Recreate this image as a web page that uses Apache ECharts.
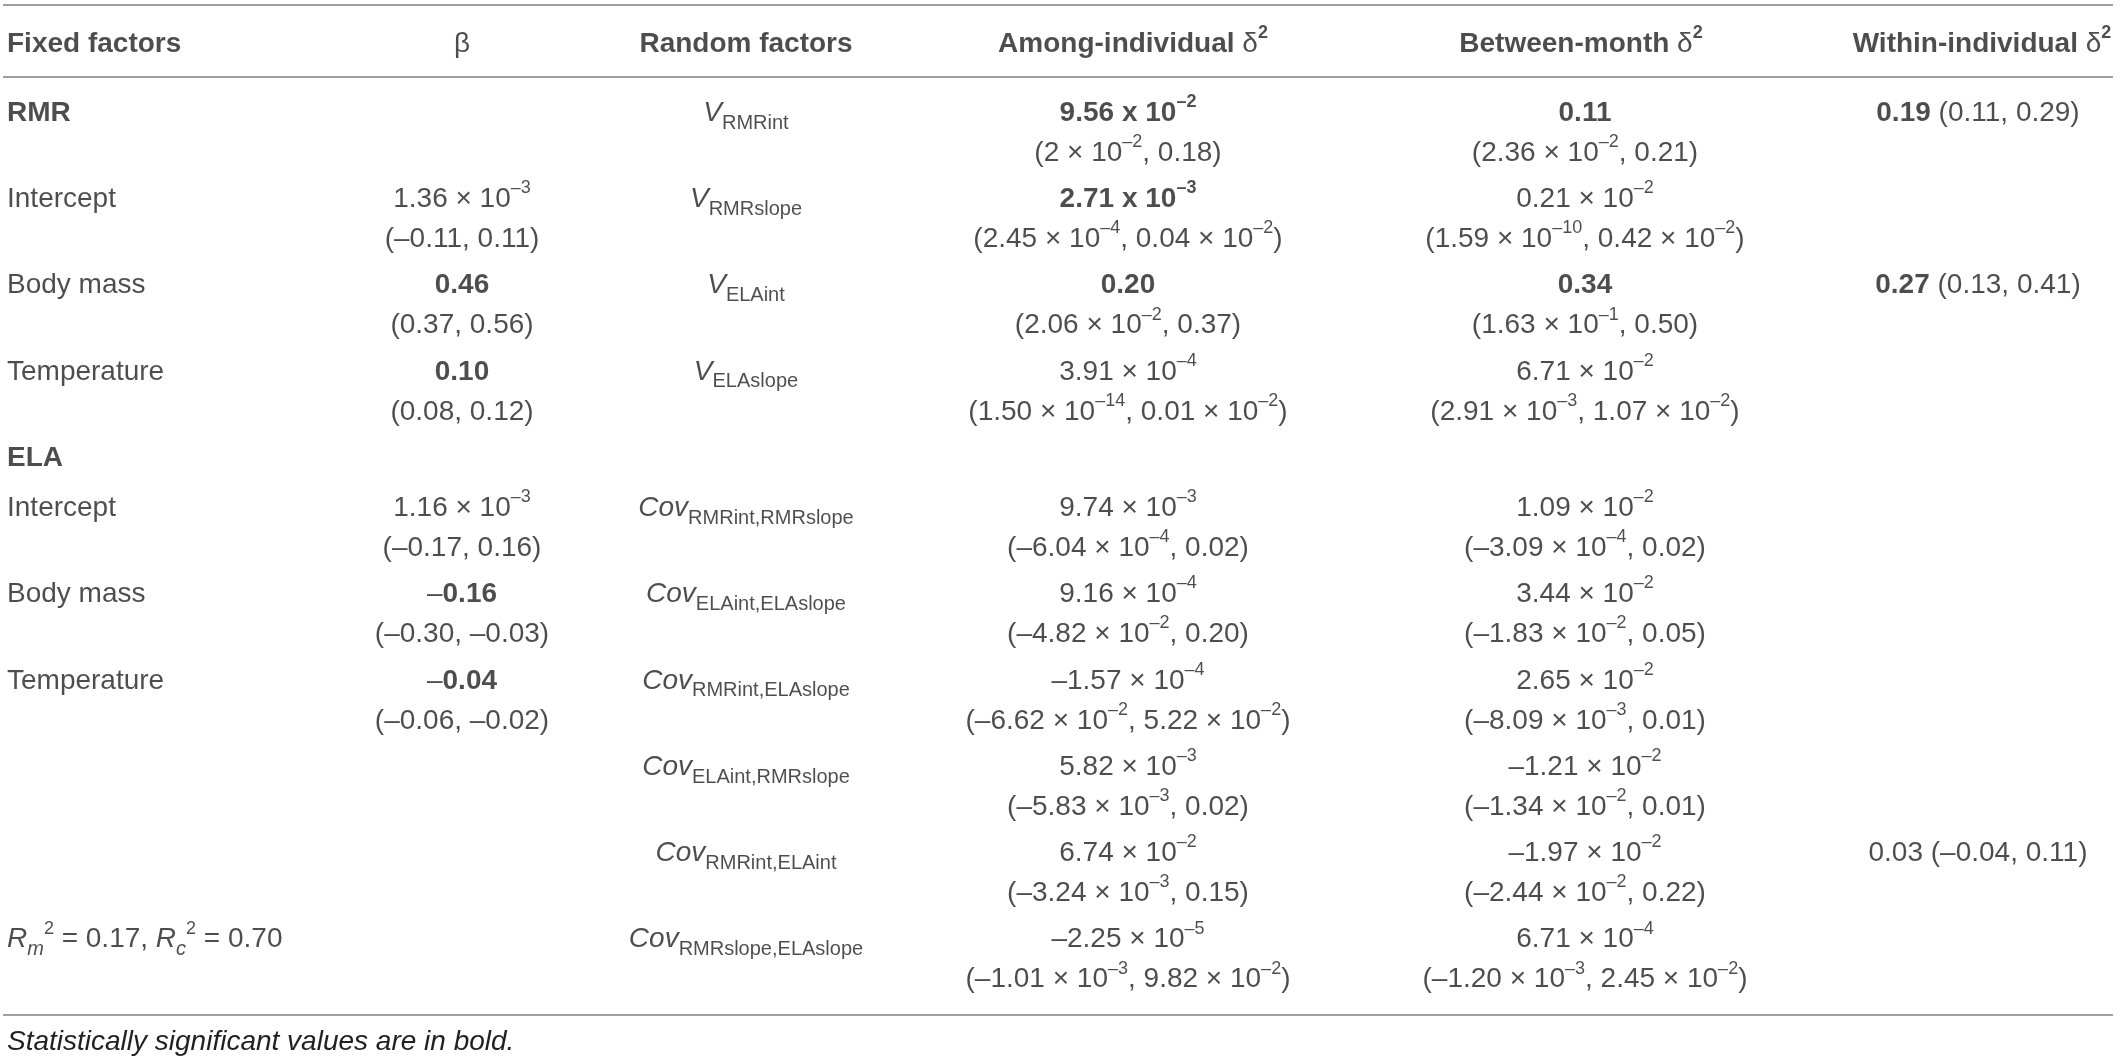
<!DOCTYPE html>
<html>
<head>
<meta charset="utf-8">
<title>Table</title>
<script src="https://cdn.jsdelivr.net/npm/echarts@6/dist/echarts.min.js"></script>
<style>
html, body { margin: 0; padding: 0; background: #fff; }
#main { width: 2118px; height: 1064px; }
</style>
</head>
<body>
<div id="main"></div>
<script>
// markup: **bold**, //italic//, ^{sup}, _{sub}, \n = new line in a cell
var headers = ['**Fixed factors**', 'β', '**Random factors**',
    '**Among-individual** δ^{**2**}', '**Between-month** δ^{**2**}', '**Within-individual** δ^{**2**}'];

var fixedFactors = ['**RMR**', 'Intercept', 'Body mass', 'Temperature', '**ELA**',
    'Intercept', 'Body mass', 'Temperature', '', '',
    '//R_{m}//^{2} = 0.17, //R_{c}//^{2} = 0.70'];

var betaValues = ['', '1.36 × 10^{–3}\n(–0.11, 0.11)', '**0.46**\n(0.37, 0.56)', '**0.10**\n(0.08, 0.12)', '',
    '1.16 × 10^{–3}\n(–0.17, 0.16)', '–**0.16**\n(–0.30, –0.03)', '–**0.04**\n(–0.06, –0.02)', '', '', ''];

var randomFactors = ['//V//_{RMRint}', '//V//_{RMRslope}', '//V//_{ELAint}', '//V//_{ELAslope}', '',
    '//Cov//_{RMRint,RMRslope}', '//Cov//_{ELAint,ELAslope}', '//Cov//_{RMRint,ELAslope}',
    '//Cov//_{ELAint,RMRslope}', '//Cov//_{RMRint,ELAint}', '//Cov//_{RMRslope,ELAslope}'];

var amongIndividual = [
    '**9.56 x 10^{–2}**\n(2 × 10^{–2}, 0.18)',
    '**2.71 x 10^{–3}**\n(2.45 × 10^{–4}, 0.04 × 10^{–2})',
    '**0.20**\n(2.06 × 10^{–2}, 0.37)',
    '3.91 × 10^{–4}\n(1.50 × 10^{–14}, 0.01 × 10^{–2})',
    '',
    '9.74 × 10^{–3}\n(–6.04 × 10^{–4}, 0.02)',
    '9.16 × 10^{–4}\n(–4.82 × 10^{–2}, 0.20)',
    '–1.57 × 10^{–4}\n(–6.62 × 10^{–2}, 5.22 × 10^{–2})',
    '5.82 × 10^{–3}\n(–5.83 × 10^{–3}, 0.02)',
    '6.74 × 10^{–2}\n(–3.24 × 10^{–3}, 0.15)',
    '–2.25 × 10^{–5}\n(–1.01 × 10^{–3}, 9.82 × 10^{–2})'];

var betweenMonth = [
    '**0.11**\n(2.36 × 10^{–2}, 0.21)',
    '0.21 × 10^{–2}\n(1.59 × 10^{–10}, 0.42 × 10^{–2})',
    '**0.34**\n(1.63 × 10^{–1}, 0.50)',
    '6.71 × 10^{–2}\n(2.91 × 10^{–3}, 1.07 × 10^{–2})',
    '',
    '1.09 × 10^{–2}\n(–3.09 × 10^{–4}, 0.02)',
    '3.44 × 10^{–2}\n(–1.83 × 10^{–2}, 0.05)',
    '2.65 × 10^{–2}\n(–8.09 × 10^{–3}, 0.01)',
    '–1.21 × 10^{–2}\n(–1.34 × 10^{–2}, 0.01)',
    '–1.97 × 10^{–2}\n(–2.44 × 10^{–2}, 0.22)',
    '6.71 × 10^{–4}\n(–1.20 × 10^{–3}, 2.45 × 10^{–2})'];

var withinIndividual = ['**0.19** (0.11, 0.29)', '', '**0.27** (0.13, 0.41)', '', '',
    '', '', '', '', '0.03 (–0.04, 0.11)', ''];

var footnote = 'Statistically significant values are in bold.';

// layout (pixels)
var columns = [fixedFactors, betaValues, randomFactors, amongIndividual, betweenMonth, withinIndividual];
var colX = [7, 462, 746, 1128, 1585, 1978];
var headerX = [7, 462, 746, 1133, 1581, 1982];
var headerY = 44, firstRowY = 113;
var ruleY = [5, 77, 1015];
var textColor = '#231f20';
var family = "'Liberation Sans', Arial, Helvetica, sans-serif";

// rich text styles
var rich = {};
['n', 'sup', 'sub'].forEach(function (mode) {
    [false, true].forEach(function (b) {
        [false, true].forEach(function (i) {
            var s = {
                color: textColor,
                fontFamily: family,
                fontWeight: b ? 'bold' : 'normal',
                fontStyle: i ? 'italic' : 'normal'
            };
            if (mode === 'n') { s.fontSize = 28; s.lineHeight = 40; }
            if (mode === 'sup') { s.fontSize = 18; s.lineHeight = 26; s.verticalAlign = 'top'; }
            if (mode === 'sub') { s.fontSize = 20; s.lineHeight = 26; s.verticalAlign = 'bottom'; }
            rich[mode + (b ? 'B' : '') + (i ? 'I' : '')] = s;
        });
    });
});

function toRich(src) {
    var out = '', buf = '', bold = false, ital = false, mode = 'n';
    function flush() {
        if (buf) out += '{' + mode + (bold ? 'B' : '') + (ital ? 'I' : '') + '|' + buf + '}';
        buf = '';
    }
    for (var k = 0; k < src.length; k++) {
        var c = src[k], c2 = src.substr(k, 2);
        if (c2 === '**') { flush(); bold = !bold; k++; }
        else if (c2 === '//') { flush(); ital = !ital; k++; }
        else if (c2 === '^{') { flush(); mode = 'sup'; k++; }
        else if (c2 === '_{') { flush(); mode = 'sub'; k++; }
        else if (c === '}') { flush(); mode = 'n'; }
        else if (c === '\n') { flush(); out += '\n'; }
        else buf += c;
    }
    flush();
    return out;
}

// row positions from line counts
var rowY = [];
var y = firstRowY;
for (var r = 0; r < fixedFactors.length; r++) {
    rowY.push(y);
    var lines = 1;
    columns.forEach(function (col) {
        if (col[r]) lines = Math.max(lines, col[r].split('\n').length);
    });
    y += lines > 1 ? 86.3 : 50;
}

var leftData = [[headerX[0], headerY, toRich(headers[0])]];
var centerData = [];
for (var c = 1; c < headers.length; c++) centerData.push([headerX[c], headerY, toRich(headers[c])]);
columns.forEach(function (col, c) {
    col.forEach(function (txt, r) {
        if (!txt) return;
        (c === 0 ? leftData : centerData).push([colX[c], rowY[r], toRich(txt)]);
    });
});

function cellSeries(data, align, extra) {
    var s = {
        type: 'scatter',
        data: data,
        symbolSize: 1,
        silent: true,
        itemStyle: { color: 'rgba(0,0,0,0)' },
        label: {
            show: true,
            position: 'inside',
            align: align,
            verticalAlign: 'top',
            offset: [0, -20],
            color: textColor,
            fontFamily: family,
            fontSize: 28,
            lineHeight: 40,
            formatter: function (p) { return p.data[2]; },
            rich: rich
        },
        emphasis: { disabled: true }
    };
    for (var k in extra) s[k] = extra[k];
    return s;
}

var myChart = echarts.init(document.getElementById('main'));
var option = {
    backgroundColor: '#fff',
    animation: false,
    grid: { left: 0, right: 0, top: 0, bottom: 0 },
    xAxis: { type: 'value', min: 0, max: 2118, show: false },
    yAxis: { type: 'value', min: 0, max: 1064, inverse: true, show: false },
    graphic: [{
        type: 'text',
        x: 7,
        y: 1042,
        style: {
            text: footnote,
            fill: textColor,
            font: 'italic 28px ' + family,
            verticalAlign: 'middle'
        }
    }],
    series: [
        cellSeries(leftData, 'left', {
            markLine: {
                silent: true,
                symbol: 'none',
                label: { show: false },
                lineStyle: { color: '#9f9f9f', width: 2, type: 'solid' },
                data: ruleY.map(function (ry) {
                    return [{ coord: [3, ry] }, { coord: [2113, ry] }];
                })
            }
        }),
        cellSeries(centerData, 'center', {})
    ]
};
myChart.setOption(option);
</script>
</body>
</html>
